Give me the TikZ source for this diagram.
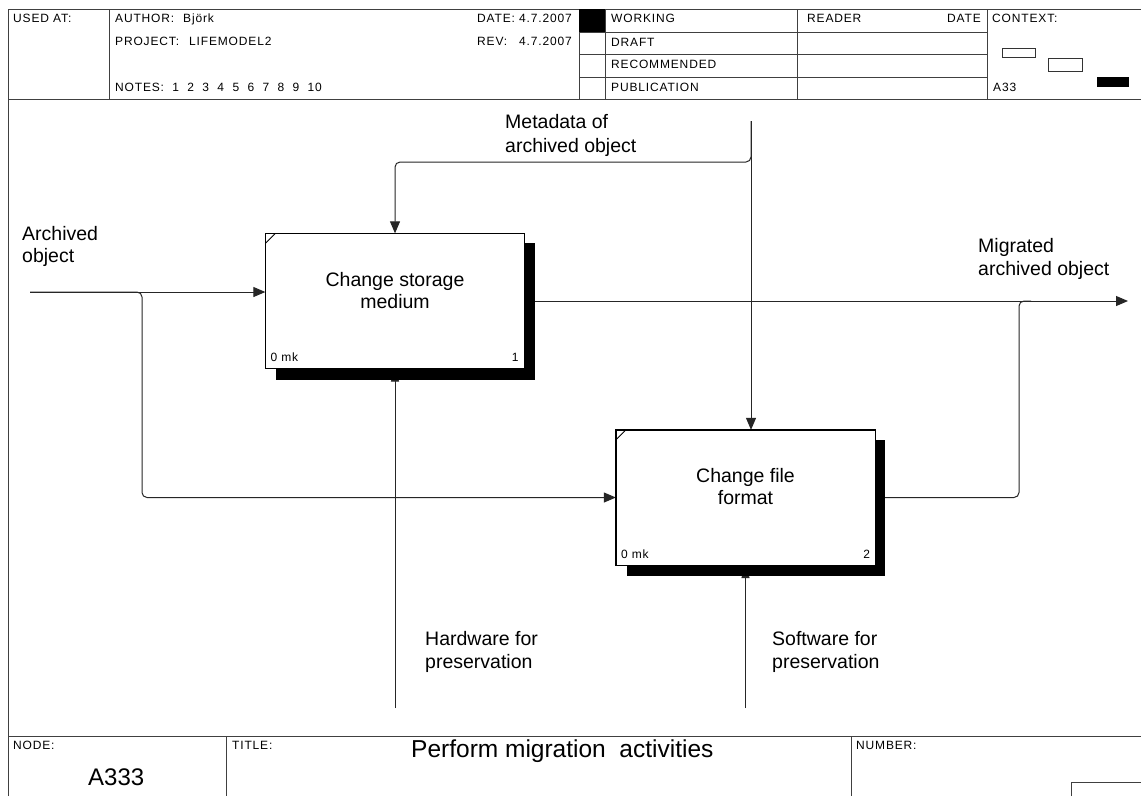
\documentclass[tikz,border=0pt]{standalone}
\usepackage{fontspec}
\setmainfont{Liberation Sans}
\newfontfamily\hdrfont[LetterSpace=7]{Liberation Sans}
\usetikzlibrary{arrows.meta,calc}

\begin{document}
\begin{tikzpicture}[x=1pt,y=-1pt,
  frame/.style={draw=black!75, line width=0.8pt},
  flow/.style={draw=black!85, line width=1pt, rounded corners=5pt},
  tipA/.style={-{Triangle[length=12pt,width=10pt]}},
  tipM/.style={-{Triangle[length=13pt,width=8pt]}},
  hdr/.style={font=\hdrfont\fontsize{12}{14}\selectfont, inner sep=0pt, anchor=base west},
  hdrR/.style={hdr, anchor=base east},
  lbl/.style={font=\fontsize{19.5}{23}\selectfont, inner sep=0pt, anchor=base west},
  boxtxt/.style={font=\fontsize{19.5}{23}\selectfont, inner sep=0pt, anchor=base},
  actbox/.style={draw=black, line width=1.3pt, fill=white, inner sep=0pt,
    minimum width=258pt, minimum height=134pt},
  shadowfill/.style={fill=black},
  ctxbox/.style={draw=black!80, line width=0.8pt, fill=white}
]
\useasboundingbox (0,0) rectangle (1141,796);
\fill[white] (0,0) rectangle (1141,796);

% ---------- form frame ----------
\draw[frame] (8,796) -- (8,9) -- (1141,9);
\draw[frame] (8,99) -- (1141,99);
\draw[frame] (8,736) -- (1141,736);
\foreach \xx in {109,579,605,797,987} \draw[frame] (\xx,9) -- (\xx,99);
\foreach \yy in {32,54,77} \draw[frame] (579,\yy) -- (987,\yy);
\fill[black] (579,9) rectangle (605,32);
\draw[frame] (226,736) -- (226,796);
\draw[frame] (851,736) -- (851,796);
\draw[frame] (1071,796) |- (1141,782);

% ---------- header texts ----------
\node[hdr] (usedat) at (13,22) {USED AT:};
\node[hdr] (author) at (115,22) {AUTHOR:};
\node[hdr] (authorv) at (183,22) {Björk};
\node[hdr] (project) at (115,45) {PROJECT:};
\node[hdr] (projectv) at (189,45) {LIFEMODEL2};
\node[hdr] (notes) at (115,91) {NOTES:\ \ 1\ \ 2\ \ 3\ \ 4\ \ 5\ \ 6\ \ 7\ \ 8\ \ 9\ \ 10};
\node[hdr] (date) at (477,22) {DATE:};
\node[hdrR] (datev) at (572,22) {4.7.2007};
\node[hdr] (rev) at (477,45) {REV:};
\node[hdrR] (revv) at (572,45) {4.7.2007};
\node[hdr] (working) at (611,22) {WORKING};
\node[hdr] (draft) at (611,46) {DRAFT};
\node[hdr] (recom) at (611,68) {RECOMMENDED};
\node[hdr] (publ) at (611,91) {PUBLICATION};
\node[hdr] (reader) at (807,22) {READER};
\node[hdrR] (rdate) at (981,22) {DATE};
\node[hdr] (context) at (992,22) {CONTEXT:};
\node[hdr] (ctxid) at (993,91) {A33};
\draw[ctxbox] (1002,48) rectangle (1035,57);
\draw[ctxbox] (1048,58) rectangle (1082,71);
\fill[black] (1097,77) rectangle (1129,87);

% ---------- footer texts ----------
\node[hdr] (nodelbl) at (13,749) {NODE:};
\node[hdr] (titlelbl) at (232,749) {TITLE:};
\node[hdr] (numlbl) at (856,749) {NUMBER:};
\node[font=\fontsize{24}{28}\selectfont, inner sep=0pt, anchor=base west] (nodeid) at (88,785) {A333};
\node[font=\fontsize{24.5}{28}\selectfont, inner sep=0pt, anchor=base west] (title) at (411,757) {Perform migration\ \ activities};

% ---------- activity boxes (placed first, drawn later on top) ----------
\path (395,301) coordinate (c1) (745.5,497.5) coordinate (c2);
\node[actbox, draw=none, fill=none] (b1) at (c1) {};
\node[actbox, draw=none, fill=none] (b2) at (c2) {};

% ---------- end points of the boundary arrows ----------
\coordinate (in1) at (30,292);
\coordinate (ctl) at (751,121);
\coordinate (out1) at (1128,301);
\coordinate (mech1) at (395,708);
\coordinate (mech2) at (745.5,708);
\coordinate (split1) at (142,292);
\coordinate (split2) at (751,162);
\coordinate (join1) at (1019,301);

% ---------- connectors ----------
% input: archived object
\draw[flow, tipA] (in1) -- (in1 -| b1.west);
\draw[flow, tipA] (in1) -- (split1) -- (split1 |- b2.west) -- (b2.west);
% control: metadata
\draw[flow, tipA] (ctl) -- (ctl |- b2.north);
\draw[flow, tipA] (ctl) -- (split2) -- (split2 -| b1.north) -- (b1.north);
% output: migrated archived object
\draw[flow, tipA] (b1.east) -- (out1);
\draw[flow] (b2.east) -- (b2.east -| join1) -- (join1) -- ++(12,0);
% mechanisms
\draw[flow, tipM] (mech1) -- (b1.south);
\draw[flow, tipM] (mech2) -- (b2.south);

% ---------- shadows and boxes ----------
\foreach \b in {b1,b2}{
  \fill[shadowfill] ($(\b.north west)+(11,10)$) rectangle ($(\b.south east)+(10,11)$);
  \draw[line width=1.3pt, fill=white] (\b.north west) rectangle (\b.south east);
  \draw[line width=0.8pt] ($(\b.north west)+(0,10)$) -- ($(\b.north west)+(10,0)$);
}

% ---------- box texts ----------
\node[boxtxt] (b1t1) at ($(b1.center)+(0,-15)$) {Change storage};
\node[boxtxt] (b1t2) at ($(b1.center)+(0,7)$) {medium};
\node[hdr] (b1c) at ($(b1.south west)+(5,-7)$) {0 mk};
\node[hdrR] (b1n) at ($(b1.south east)+(-6,-7)$) {1};
\node[boxtxt] (b2t1) at ($(b2.center)+(0,-15)$) {Change file};
\node[boxtxt] (b2t2) at ($(b2.center)+(0,7)$) {format};
\node[hdr] (b2c) at ($(b2.south west)+(5,-7)$) {0 mk};
\node[hdrR] (b2n) at ($(b2.south east)+(-5,-7)$) {2};

% ---------- arrow labels ----------
\node[lbl] (lin1) at (22,240) {Archived};
\node[lbl] (lin2) at (22,262) {object};
\node[lbl] (lctl1) at (505,128) {Metadata of};
\node[lbl] (lctl2) at (505,152) {archived object};
\node[lbl] (lout1) at (978,252) {Migrated};
\node[lbl] (lout2) at (978,275) {archived object};
\node[lbl] (lm1a) at (425,645) {Hardware for};
\node[lbl] (lm1b) at (425,668) {preservation};
\node[lbl] (lm2a) at (772,645) {Software for};
\node[lbl] (lm2b) at (772,668) {preservation};
\end{tikzpicture}
\end{document}
